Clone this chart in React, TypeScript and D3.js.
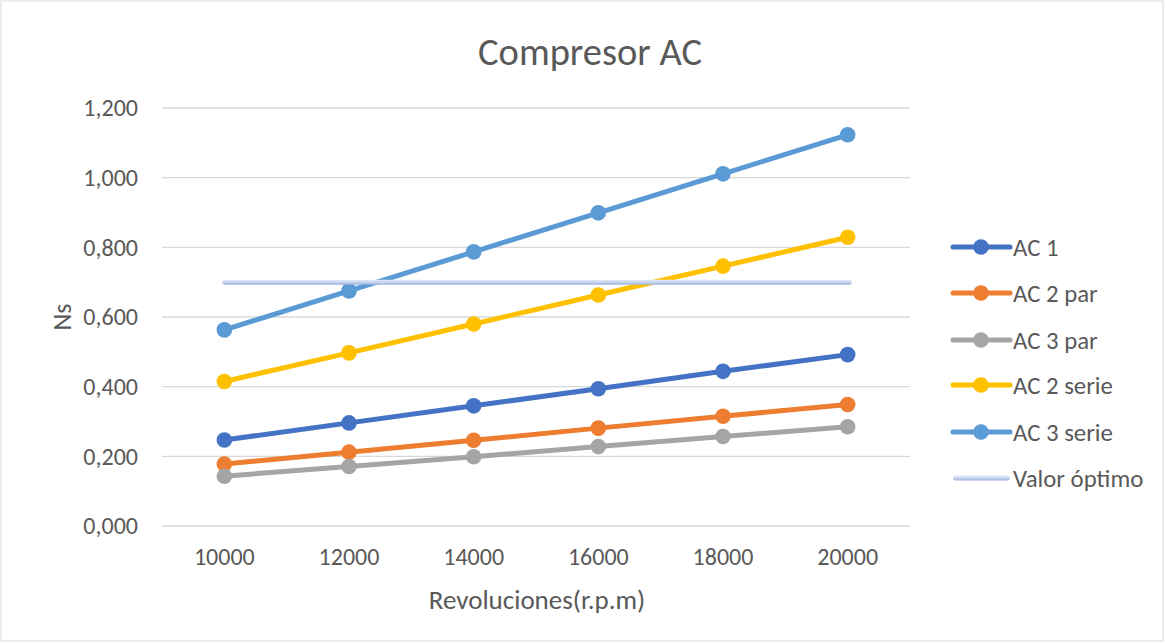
import React from "react";
import * as d3 from "d3";

const categories = ["10000", "12000", "14000", "16000", "18000", "20000"];
const seriesNames = ["AC 1", "AC 2 par", "AC 3 par", "AC 2 serie", "AC 3 serie"];
const ac1 = [0.247, 0.296, 0.345, 0.394, 0.444, 0.492];
const ac2par = [0.178, 0.212, 0.246, 0.281, 0.315, 0.349];
const ac3par = [0.143, 0.171, 0.199, 0.228, 0.257, 0.285];
const ac2serie = [0.415, 0.497, 0.58, 0.663, 0.746, 0.829];
const ac3serie = [0.563, 0.675, 0.787, 0.899, 1.011, 1.123];
const valorOptimo = 0.7;
const yTicks = [0, 0.2, 0.4, 0.6, 0.8, 1.0, 1.2];
const colors = ["#4472C4", "#ED7D31", "#A5A5A5", "#FFC000", "#5B9BD5"];

const W = 1165, H = 643;
const left = 162, right = 910, top = 108, bottom = 526;

export default function App() {
  const x = d3.scaleBand<string>().domain(categories).range([left, right]);
  const cx = (c: string) => (x(c) as number) + x.bandwidth() / 2;
  const y = d3.scaleLinear().domain([0, 1.2]).range([bottom, top]);
  const allSeries = [ac1, ac2par, ac3par, ac2serie, ac3serie];
  const line = d3.line<number>().x((_, i) => cx(categories[i])).y((d) => y(d));
  const fmt = (v: number) => v.toFixed(3).replace(".", ",");
  const font = "Carlito, Calibri, 'Open Sans', sans-serif";
  const txt = "#595959";
  const legendY = [247, 293, 340, 385, 432, 478];
  const optX1 = cx(categories[0]) - 2;
  const optX2 = cx(categories[5]) + 4;
  return (
    <svg width={W} height={H} style={{ position: "fixed", left: 0, top: 0, background: "#fff" }} fontFamily={font}>
      <defs>
        <linearGradient id="optg" x1="0" y1="0" x2="0" y2="1">
          <stop offset="0" stopColor="#E4EBF7" />
          <stop offset="0.5" stopColor="#C9D6EE" />
          <stop offset="1" stopColor="#9DB3DF" />
        </linearGradient>
      </defs>
      <rect x={1} y={1} width={W - 3} height={H - 3} fill="#fff" stroke="#D9D9D9" />
      <text x={590} y={52} dy="0.35em" textAnchor="middle" fontSize={38.5} fill={txt}>Compresor AC</text>
      {yTicks.map((t) => (
        <g key={t}>
          <line x1={left} x2={right} y1={y(t)} y2={y(t)} stroke="#D9D9D9" strokeWidth={1.3} />
          <text x={138} y={y(t)} dy="0.35em" textAnchor="end" fontSize={24} fill={txt}>{fmt(t)}</text>
        </g>
      ))}
      <text transform={`translate(71,${317}) rotate(-90)`} textAnchor="middle" fontSize={26} fill={txt}>Ns</text>
      {categories.map((c) => (
        <text key={c} x={cx(c)} y={557} dy="0.35em" textAnchor="middle" fontSize={24} fill={txt}>{c}</text>
      ))}
      <text x={537} y={600} dy="0.35em" textAnchor="middle" fontSize={27} fill={txt}>Revoluciones(r.p.m)</text>
      {allSeries.map((s, i) => (
        <g key={seriesNames[i]}>
          <path d={line(s) as string} fill="none" stroke={colors[i]} strokeWidth={5} strokeLinejoin="round" />
          {s.map((v, j) => (
            <circle key={j} cx={cx(categories[j])} cy={y(v)} r={7.8} fill={colors[i]} />
          ))}
        </g>
      ))}
      <rect x={optX1} y={y(valorOptimo) - 2.5} width={optX2 - optX1} height={5} rx={2.5} fill="url(#optg)" />
      {seriesNames.map((n, i) => (
        <g key={n}>
          <line x1={953} x2={1010} y1={legendY[i]} y2={legendY[i]} stroke={colors[i]} strokeWidth={5} strokeLinecap="round" />
          <circle cx={981} cy={legendY[i]} r={7.8} fill={colors[i]} />
          <text x={1013} y={legendY[i]} dy="0.35em" fontSize={24.8} fill={txt}>{n}</text>
        </g>
      ))}
      <rect x={953} y={legendY[5] - 2.5} width={57} height={5} rx={2.5} fill="url(#optg)" />
      <text x={1013} y={legendY[5]} dy="0.35em" fontSize={24.8} fill={txt}>Valor óptimo</text>
    </svg>
  );
}
